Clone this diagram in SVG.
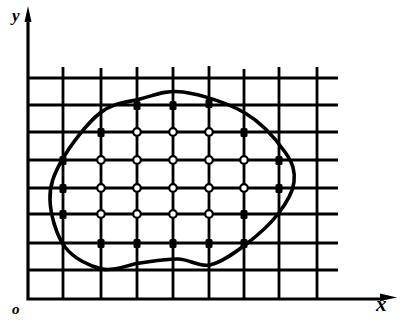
<svg xmlns="http://www.w3.org/2000/svg" width="403" height="325" viewBox="0 0 403 325">
<style>
.grid{stroke:#000;stroke-width:2.8;fill:none}
.axis{stroke:#000;stroke-width:3.2;fill:none}
.curve{stroke:#000;stroke-width:3.6;fill:none}
.open{fill:#fff;stroke:#000;stroke-width:2.2}
.full{fill:#000}
.lbl{font-family:"Liberation Serif",serif;font-style:italic;font-weight:bold;fill:#000}
</style>
<rect width="403" height="325" fill="#fff"/>
<g id="grid">
<path class="grid" d="M28 78H338M28 105H338M28 132H338M28 160H338M28 188H338M28 214H338M28 243H338M28 270H338
M63 67V299M101 68V299M137 67V299M173 67V299M209 66V299M244 69V299M279 67V299M317 67V299"/>
</g>
<g id="axes">
<path class="axis" d="M28 14V299H384"/>
<polygon points="28,6 31.5,22 24.5,22" fill="#000"/>
<polygon points="397,297.5 380,293.5 380,301" fill="#000"/>
</g>
<g id="region">
<path class="curve" d="M183 92C200.5 94.3 228 103 245 113C262 123 276.8 140.5 285 152C293.2 163.5 295.2 171.7 294 182C292.8 192.3 286.2 203.5 278 214C269.8 224.5 256.3 236.5 245 245C233.7 253.5 221.2 262.7 210 265C198.8 267.3 189.7 259.3 178 259C166.3 258.7 152.7 261.3 140 263C127.3 264.7 114.5 271.7 102 269C89.5 266.3 73.7 258.5 65 247C56.3 235.5 50.5 214.5 50 200C49.5 185.5 53.7 174.5 62 160C70.3 145.5 87 123.2 100 113C113 102.8 126.2 102.5 140 99C153.8 95.5 165.5 89.7 183 92Z"/>
</g>
<g id="inner-points">
<circle class="open" cx="137" cy="132" r="3.8"/>
<circle class="open" cx="173" cy="132" r="3.8"/>
<circle class="open" cx="209" cy="132" r="3.8"/>
<circle class="open" cx="101" cy="160" r="3.8"/>
<circle class="open" cx="137" cy="160" r="3.8"/>
<circle class="open" cx="173" cy="160" r="3.8"/>
<circle class="open" cx="209" cy="160" r="3.8"/>
<circle class="open" cx="244" cy="160" r="3.8"/>
<circle class="open" cx="101" cy="188" r="3.8"/>
<circle class="open" cx="137" cy="188" r="3.8"/>
<circle class="open" cx="173" cy="188" r="3.8"/>
<circle class="open" cx="209" cy="188" r="3.8"/>
<circle class="open" cx="244" cy="188" r="3.8"/>
<circle class="open" cx="101" cy="214" r="3.8"/>
<circle class="open" cx="137" cy="214" r="3.8"/>
<circle class="open" cx="173" cy="214" r="3.8"/>
<circle class="open" cx="209" cy="214" r="3.8"/>
</g>
<g id="boundary-points">
<rect class="full" x="133.5" y="101" width="7" height="9" rx="1.5"/>
<rect class="full" x="169.5" y="101" width="7" height="9" rx="1.5"/>
<rect class="full" x="205.5" y="99" width="7" height="9" rx="1.5"/>
<rect class="full" x="97.5" y="128" width="7" height="9" rx="1.5"/>
<rect class="full" x="240.5" y="128" width="7" height="9" rx="1.5"/>
<rect class="full" x="59.5" y="156" width="7" height="9" rx="1.5"/>
<rect class="full" x="275.5" y="156" width="7" height="9" rx="1.5"/>
<rect class="full" x="59.5" y="184" width="7" height="9" rx="1.5"/>
<rect class="full" x="275.5" y="184" width="7" height="9" rx="1.5"/>
<rect class="full" x="59.5" y="210" width="7" height="9" rx="1.5"/>
<rect class="full" x="240.5" y="210" width="7" height="9" rx="1.5"/>
<rect class="full" x="97.5" y="239" width="7" height="9" rx="1.5"/>
<rect class="full" x="133.5" y="239" width="7" height="9" rx="1.5"/>
<rect class="full" x="169.5" y="239" width="7" height="9" rx="1.5"/>
<rect class="full" x="205.5" y="239" width="7" height="9" rx="1.5"/>
<rect class="full" x="240.5" y="239" width="7" height="9" rx="1.5"/>
</g>
<g id="labels">
<text class="lbl" x="12" y="21" font-size="17">y</text>
<text class="lbl" x="12" y="314" font-size="15">o</text>
<text class="lbl" x="376" y="311" font-size="21">x</text>
</g>
</svg>
